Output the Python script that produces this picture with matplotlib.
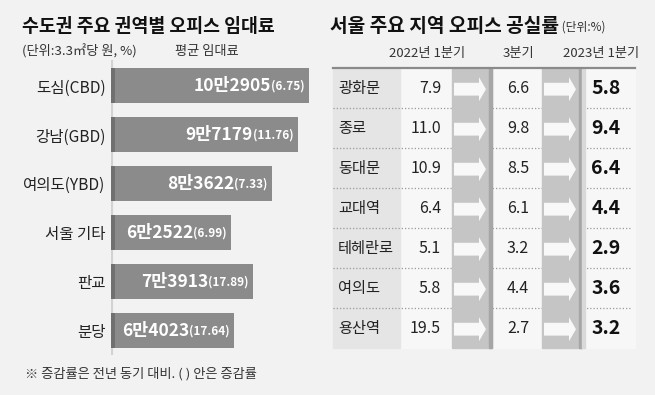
import matplotlib
matplotlib.use("Agg")
import matplotlib.pyplot as plt
from matplotlib.patches import Polygon, Rectangle

plt.rcParams["font.family"] = ["Noto Sans CJK KR", "DejaVu Sans"]

# Left chart: average office rent (won per 3.3 m2) and year-on-year change (%)
regions = ["도심(CBD)", "강남(GBD)", "여의도(YBD)", "서울 기타", "판교", "분당"]
rents = [102905, 97179, 83622, 62522, 73913, 64023]
rent_changes = [6.75, 11.76, 7.33, 6.99, 17.89, 17.64]

# Right table: vacancy rate (%)
areas = ["광화문", "종로", "동대문", "교대역", "테헤란로", "여의도", "용산역"]
periods = ["2022년 1분기", "3분기", "2023년 1분기"]
vac_2022q1 = [7.9, 11.0, 10.9, 6.4, 5.1, 5.8, 19.5]
vac_2022q3 = [6.6, 9.8, 8.5, 6.1, 3.2, 4.4, 2.7]
vac_2023q1 = [5.8, 9.4, 6.4, 4.4, 2.9, 3.6, 3.2]

W, H = 655, 395
BG = "#f2f2f2"
BAR = "#8b8b8b"
TXT = "#222222"

fig = plt.figure(figsize=(W / 100, H / 100), dpi=100, facecolor=BG)


def px_axes(left, top, width, height):
    return fig.add_axes([left / W, 1 - (top + height) / H, width / W, height / H])


def fy(py):
    return 1 - py / H


# ---------------- left: bar chart ----------------
fig.text(22 / W, fy(26), "수도권 주요 권역별 오피스 임대료", fontsize=13.2,
         fontweight="bold", color="#111111", va="center", ha="left")
fig.text(22 / W, fy(51), "(단위:3.3㎡당 원, %)", fontsize=9.5, color="#333333",
         va="center", ha="left")
fig.text(207 / W, fy(51), "평균 임대료", fontsize=9.5, color="#333333",
         va="center", ha="center")
fig.text(25 / W, fy(374), "※ 증감률은 전년 동기 대비. ( ) 안은 증감률", fontsize=9.5,
         color="#333333", va="center", ha="left")

ax = px_axes(111, 60, 215, 295)
ax.set_facecolor("none")
ax.set_xlim(0, 215 * 520.8)
ax.set_ylim(5.5, -0.53)
ypos = list(range(len(regions)))
ax.axvline(0, color="#d2d2d2", lw=3, zorder=1)
ax.barh(ypos, rents, height=0.715, color=BAR, zorder=2)
ax.barh(ypos, [2000] * len(rents), height=0.715, color="#707070", zorder=3)
ax.set_yticks(ypos)
ax.set_yticklabels(regions, fontsize=11.2, color=TXT)
ax.tick_params(axis="y", length=0, pad=4)
ax.set_xticks([])
for s in ax.spines.values():
    s.set_visible(False)

for y, v, c in zip(ypos, rents, rent_changes):
    t = ax.annotate(f"({c:.2f})", xy=(v, y), xytext=(-3, 0),
                    textcoords="offset points", ha="right", va="center",
                    fontsize=8.5, fontweight="bold", color="white", zorder=4)
    ax.annotate(f"{v // 10000}만{v % 10000}", xy=(0, 0.5), xycoords=t,
                ha="right", va="center", fontsize=12.5, fontweight="bold",
                color="white", zorder=4)

# ---------------- right: vacancy table ----------------
title_r = fig.text(330 / W, fy(26), "서울 주요 지역 오피스 공실률", fontsize=13.8,
                   fontweight="bold", color="#111111", va="center", ha="left")
ax2 = px_axes(330, 40, 315, 315)
ax2.set_facecolor("none")
ax2.set_xlim(330, 645)
ax2.set_ylim(6.675, -1.2)
ax2.axis("off")
ax2.annotate(" (단위:%)", xy=(1, 0.45), xycoords=title_r, ha="left",
             va="center", fontsize=8.5, color="#333333")

n = len(areas)
top = -0.5
# table background
ax2.add_patch(Rectangle((333, top), 302, n, color="#f7f7f7", zorder=0))
ax2.add_patch(Rectangle((333, top), 67, n, color="#e5e5e5", zorder=1))
# row separators
for i in range(1, n):
    ax2.plot([333, 630], [i - 0.5, i - 0.5], color="#9a9a9a", lw=0.9,
             linestyle=(0, (1, 1.6)), zorder=2)
# arrow columns
for x0 in (452, 542):
    ax2.add_patch(Rectangle((x0, top), 40, n, color="#c5c5c5", zorder=3))
    ax2.add_patch(Rectangle((x0 + 37, top), 3, n, color="#a6a6a6", zorder=3))
    for i in range(n):
        yc = i + 0.03
        pts = [(454, yc - 0.16), (479, yc - 0.16), (479, yc - 0.3),
               (486, yc), (479, yc + 0.3), (479, yc + 0.16), (454, yc + 0.16)]
        pts = [(x - 452 + x0, y) for x, y in pts]
        ax2.add_patch(Polygon(pts, closed=True, facecolor="#f8f8f8",
                              edgecolor="none", zorder=4))
ax2.add_patch(Rectangle((582, top), 3, n, color="#d9d9d9", zorder=3))
ax2.plot([333, 635], [top, top], color="#8a8a8a", lw=1.6, zorder=5)

# headers
for x, p in zip((427, 518, 601), periods):
    ax2.text(x, -0.87, p, ha="center", va="center", fontsize=9.5,
             color="#333333")

for i, a in enumerate(areas):
    ax2.text(338, i, a, ha="left", va="center", fontsize=11, color=TXT,
             zorder=6)
    ax2.text(441, i, f"{vac_2022q1[i]:.1f}", ha="right", va="center",
             fontsize=11.5, color=TXT, zorder=6)
    ax2.text(518, i, f"{vac_2022q3[i]:.1f}", ha="center", va="center",
             fontsize=11.5, color=TXT, zorder=6)
    ax2.text(606, i, f"{vac_2023q1[i]:.1f}", ha="center", va="center",
             fontsize=14, fontweight="bold", color="#111111", zorder=6)

fig.savefig("out.png", dpi=100, facecolor=BG)
